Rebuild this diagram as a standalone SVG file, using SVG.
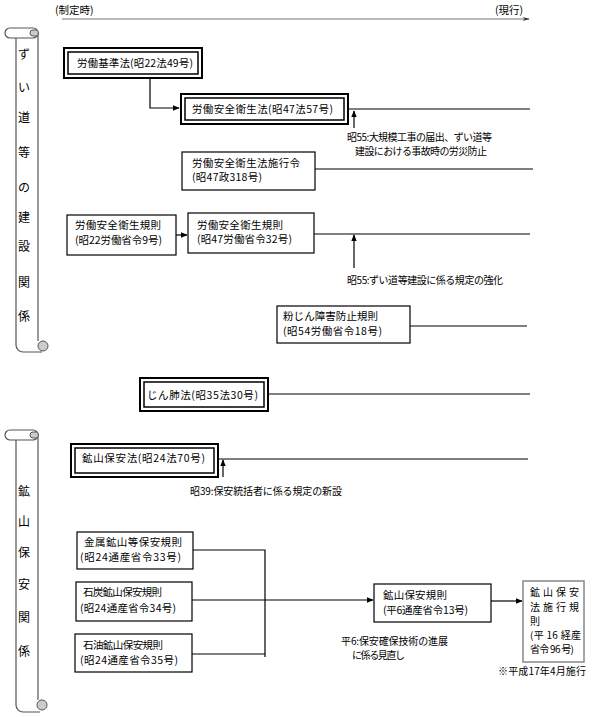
<svg xmlns="http://www.w3.org/2000/svg" width="594" height="717" viewBox="0 0 594 717">
<defs>
<marker id="ah" viewBox="0 0 10 10" refX="9" refY="5" markerWidth="7" markerHeight="7" markerUnits="userSpaceOnUse" orient="auto">
<path d="M0,1 L10,5 L0,9 Z" fill="#000"/>
</marker>
<marker id="ah2" viewBox="0 0 10 10" refX="9" refY="5" markerWidth="9" markerHeight="7" markerUnits="userSpaceOnUse" orient="auto">
<path d="M0,2 L10,5 L0,8 L3,5 Z" fill="#333"/>
</marker>
</defs>
<style>
text{font-family:"Noto Sans CJK JP","Noto Sans CJK SC",sans-serif;font-size:10.5px;fill:#000}
.sc{font-size:12px}
.an{font-size:10px}
.b{fill:#fff;stroke:#000;stroke-width:1.2}
.o{fill:#fff;stroke:#000;stroke-width:2}
.i{fill:none;stroke:#000;stroke-width:1.5}
.ln{fill:none;stroke:#000;stroke-width:1.2}
.scr{fill:#fff;stroke:#555;stroke-width:1.2}
.curl{fill:#ccc;stroke:#555;stroke-width:1}
</style>
<rect width="594" height="717" fill="#fff"/>

<g id="timeline">
<text x="55" y="14">(制定時)</text>
<text x="495" y="14">(現行)</text>
<line x1="62" y1="19" x2="529" y2="19" stroke="#777" stroke-width="1.2" marker-end="url(#ah2)"/>
</g>

<g id="scroll1">
<path class="scr" d="M16,38 V345 A7,7 0 0 0 23,352 H42 M38,33 V341"/>
<path class="scr" d="M10,28 H33 A5,5 0 0 1 33,38 H10 A5,5 0 0 1 10,28 Z"/>
<path class="curl" d="M33,30 A3,3 0 0 0 33,36 L37,36 A4,4 0 0 0 37,30 Z"/>
<circle class="curl" cx="43" cy="346" r="5"/>
<text class="sc" x="18" y="59">ず</text>
<text class="sc" x="18" y="92">い</text>
<text class="sc" x="18" y="122">道</text>
<text class="sc" x="18" y="157">等</text>
<text class="sc" x="18" y="192">の</text>
<text class="sc" x="18" y="222">建</text>
<text class="sc" x="18" y="251">設</text>
<text class="sc" x="18" y="287">関</text>
<text class="sc" x="18" y="321">係</text>
</g>

<g id="scroll2">
<path class="scr" d="M16,440 V705 A7,7 0 0 0 23,712 H40 M38,435 V700"/>
<path class="scr" d="M10,430 H33 A5,5 0 0 1 33,440 H10 A5,5 0 0 1 10,430 Z"/>
<path class="curl" d="M33,432 A3,3 0 0 0 33,438 L37,438 A4,4 0 0 0 37,432 Z"/>
<circle class="curl" cx="42" cy="705" r="5"/>
<text class="sc" x="18" y="496">鉱</text>
<text class="sc" x="18" y="526">山</text>
<text class="sc" x="18" y="557">保</text>
<text class="sc" x="18" y="589">安</text>
<text class="sc" x="18" y="622">関</text>
<text class="sc" x="18" y="656">係</text>
</g>

<g id="connectors">
<path class="ln" d="M150,79 V108 H179" marker-end="url(#ah)"/>
<path class="ln" d="M349,109 H530"/>
<path class="ln" d="M354,128 V111" marker-end="url(#ah)"/>
<path class="ln" d="M315,169 H533"/>
<path class="ln" d="M176,235 H187" marker-end="url(#ah)"/>
<path class="ln" d="M314,234 H530"/>
<path class="ln" d="M354,268 V235" marker-end="url(#ah)"/>
<path class="ln" d="M410,326 H527"/>
<path class="ln" d="M269,394 H530"/>
<path class="ln" d="M219,459 H528"/>
<path class="ln" d="M223,477 V460" marker-end="url(#ah)"/>
<path class="ln" d="M193,550 H265 V657 M192,654 H265"/>
<path class="ln" d="M192,600 H373" marker-end="url(#ah)"/>
<path class="ln" d="M491,601 H522" marker-end="url(#ah)"/>
</g>

<g id="n1">
<rect class="o" x="64" y="48" width="138" height="30"/>
<rect class="i" x="68" y="52" width="130" height="22"/>
<text x="77" y="67" textLength="116">労働基準法(昭22法49号)</text>
</g>

<g id="n2">
<rect class="o" x="181" y="94" width="167" height="30"/>
<rect class="i" x="185" y="98" width="159" height="22"/>
<text x="192" y="113" textLength="141">労働安全衛生法(昭47法57号)</text>
</g>

<g id="a1">
<text class="an" x="347" y="141" textLength="145">昭55:大規模工事の届出、ずい道等</text>
<text class="an" x="355" y="155" textLength="132">建設における事故時の労災防止</text>
</g>

<g id="n3">
<rect class="b" x="182" y="152" width="133" height="38"/>
<text x="192" y="167" textLength="108">労働安全衛生法施行令</text>
<text x="192" y="181" textLength="70">(昭47政318号)</text>
</g>

<g id="n4">
<rect class="b" x="67" y="215" width="109" height="40"/>
<text x="75" y="229" textLength="86">労働安全衛生規則</text>
<text x="75" y="244" textLength="87">(昭22労働省令9号)</text>
</g>

<g id="n5">
<rect class="b" x="188" y="213" width="126" height="40"/>
<text x="197" y="229" textLength="86">労働安全衛生規則</text>
<text x="197" y="243" textLength="95">(昭47労働省令32号)</text>
</g>

<g id="a2">
<text class="an" x="347" y="284" textLength="156">昭55:ずい道等建設に係る規定の強化</text>
</g>

<g id="n6">
<rect class="b" x="277" y="306" width="133" height="37"/>
<text x="283" y="320" textLength="95">粉じん障害防止規則</text>
<text x="283" y="335" textLength="99">(昭54労働省令18号)</text>
</g>

<g id="n7">
<rect class="o" x="140" y="378" width="128" height="33"/>
<rect class="i" x="144" y="382" width="120" height="25"/>
<text x="147" y="399" textLength="111">じん肺法(昭35法30号)</text>
</g>

<g id="n8">
<rect class="o" x="71" y="444" width="147" height="33"/>
<rect class="i" x="75" y="448" width="139" height="25"/>
<text x="82" y="462" textLength="123">鉱山保安法(昭24法70号)</text>
</g>

<g id="a3">
<text class="an" x="190" y="495" textLength="152">昭39:保安統括者に係る規定の新設</text>
</g>

<g id="n9">
<rect class="b" x="77" y="532" width="116" height="37"/>
<text x="84" y="546" textLength="98">金属鉱山等保安規則</text>
<text x="80" y="561" textLength="101">(昭24通産省令33号)</text>
</g>

<g id="n10">
<rect class="b" x="76" y="582" width="116" height="39"/>
<text x="83" y="596" textLength="79">石炭鉱山保安規則</text>
<text x="80" y="612" textLength="96">(昭24通産省令34号)</text>
</g>

<g id="n11">
<rect class="b" x="75" y="634" width="117" height="38"/>
<text x="83" y="649" textLength="80">石油鉱山保安規則</text>
<text x="80" y="664" textLength="98">(昭24通産省令35号)</text>
</g>

<g id="n12">
<rect class="b" x="374" y="584" width="117" height="38"/>
<text x="383" y="599" textLength="64">鉱山保安規則</text>
<text x="383" y="614" textLength="85">(平6通産省令13号)</text>
</g>

<g id="a4">
<text class="an" x="341" y="645" textLength="107">平6:保安確保技術の進展</text>
<text class="an" x="352" y="659" textLength="53">に係る見直し</text>
</g>

<g id="n13">
<rect x="523" y="581" width="61" height="81" fill="#fff" stroke="#888" stroke-width="1.5"/>
<text class="an" x="530" y="596" textLength="49">鉱山保安</text>
<text class="an" x="530" y="611" textLength="49">法施行規</text>
<text class="an" x="530" y="625">則</text>
<text class="an" x="530" y="639" textLength="51">(平 16 経産</text>
<text class="an" x="530" y="653" textLength="44">省令 96 号)</text>
</g>

<g id="note">
<text class="an" x="498" y="675" textLength="88">※平成17年4月施行</text>
</g>
</svg>
